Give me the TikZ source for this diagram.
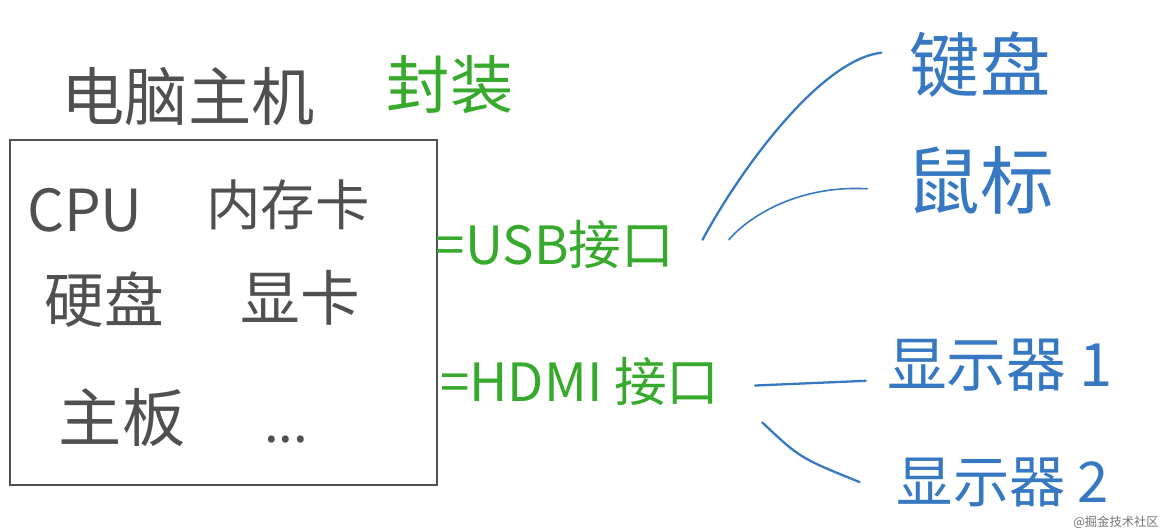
\documentclass[tikz,border=0pt]{standalone}
\usepackage{fontspec}
\setmainfont{Noto Sans CJK SC}
\definecolor{pencil}{RGB}{80,80,80}
\definecolor{marker}{RGB}{55,170,45}
\definecolor{ink}{RGB}{55,120,195}

\begin{document}
\begin{tikzpicture}[x=0.02cm, y=-0.02cm,
  part/.style={text=pencil, inner sep=2pt},
  port/.style={text=marker, inner sep=4pt},
  device/.style={text=ink, inner sep=4pt},
  wire/.style={draw=ink, line width=1.3pt, line cap=round}]
\useasboundingbox (0,0) rectangle (1165,531);

% Host
\node[part, font=\fontsize{36}{40}\selectfont] (host) at (188,97) {电脑主机};
\node[text=marker, font=\fontsize{36}{40}\selectfont] (wrap) at (450,85) {封装};
\draw[draw=pencil, line width=1.4pt] (10,140) rectangle (437,485);

% Parts inside
\node[part, font=\fontsize{33}{36}\selectfont] (cpu) at (85,210) {CPU};
\node[part, font=\fontsize{31}{36}\selectfont] (ram) at (288,205) {内存卡};
\node[part, font=\fontsize{34}{38}\selectfont] (disk) at (104,300) {硬盘};
\node[part, font=\fontsize{34}{38}\selectfont] (gpu) at (300,298) {显卡};
\node[part, font=\fontsize{36}{40}\selectfont] (board) at (122,418) {主板};
\node[part, font=\fontsize{30}{34}\selectfont] (more) at (286,440) {...};

% Ports
\node[port, font=\fontsize{30}{34}\selectfont] (usb) at (555,245) {=USB接口};
\node[port, font=\fontsize{30}{34}\selectfont] (hdmi) at (580,382) {=HDMI 接口};

% Devices
\node[device, font=\fontsize{40}{44}\selectfont] (keyboard) at (980,65) {键盘};
\node[device, font=\fontsize{42}{46}\selectfont] (mouse) at (980,180) {鼠标};
\node[device, font=\fontsize{34}{38}\selectfont] (screen1) at (1000,365) {显示器 1};
\node[device, inner sep=0pt, font=\fontsize{32}{36}\selectfont] (screen2) at (1003,482) {显示器 2};

% Wires
\draw[wire] ([shift={(12pt,3pt)}]usb.east) .. controls (740,170) and (820,60) .. ([shift={(-12pt,7pt)}]keyboard.west);
\draw[wire, line width=0.9pt] ([shift={(27pt,3pt)}]usb.east) .. controls (750,215) and (800,185) .. ([shift={(-18pt,-5pt)}]mouse.west);
\draw[wire] ([shift={(16pt,-2pt)}]hdmi.east) -- ([shift={(-8pt,-9pt)}]screen1.west);
\draw[wire] ([shift={(20pt,-23pt)}]hdmi.east) .. controls (800,458) .. ([shift={(-21pt,0pt)}]screen2.west);

\node[text=black!55, inner sep=0pt, font=\fontsize{7}{8}\selectfont] (mark) at (1116,522) {@掘金技术社区};
\end{tikzpicture}
\end{document}
